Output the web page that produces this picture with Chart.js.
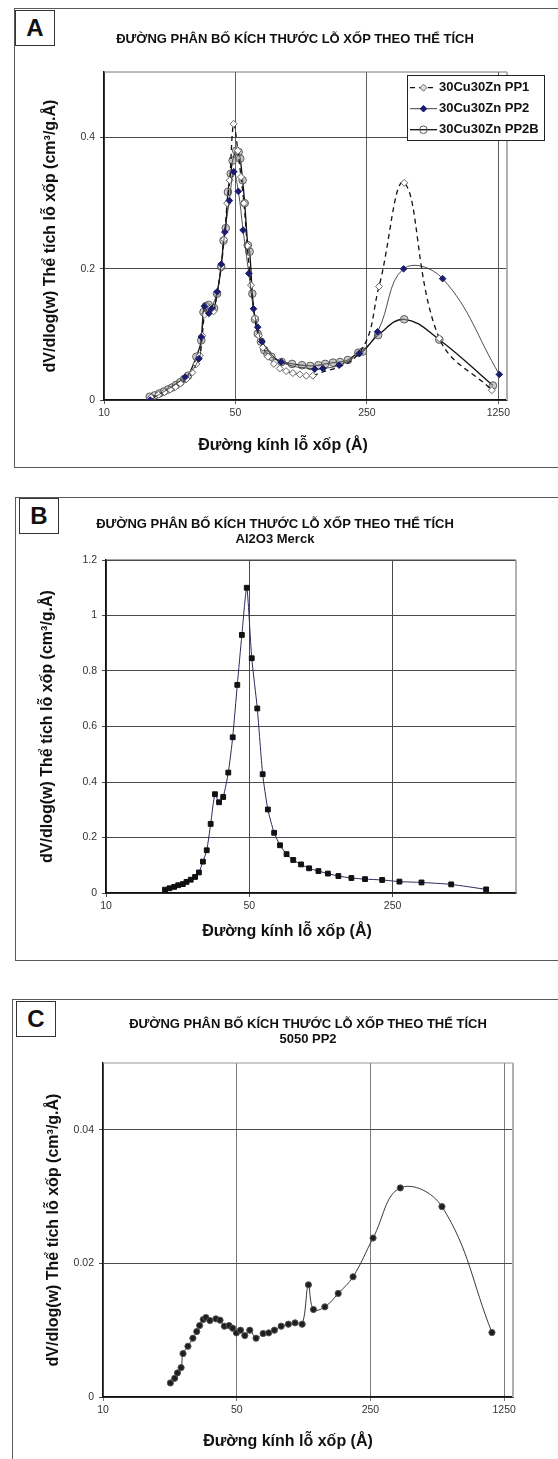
<!DOCTYPE html>
<html>
<head>
<meta charset="utf-8">
<script src="https://cdn.jsdelivr.net/npm/chart.js@4.4.1/dist/chart.umd.min.js"></script>
<style>
  html, body { margin: 0; padding: 0; background: #fff; }
  body { width: 558px; height: 1459px; position: relative; overflow: hidden;
         font-family: "Liberation Sans", Arial, Helvetica, sans-serif; color: #111; }
  .panel { position: absolute; border: 1.5px solid #5a5a5a; border-right: none; }
  .tag { position: absolute; width: 38px; height: 34px; border: 1.5px solid #333; background: #fff;
         font-weight: bold; font-size: 24px; display: flex; align-items: center; justify-content: center; z-index: 3; }
  .title { position: absolute; transform: translateX(-50%); font-weight: bold; font-size: 13px;
           line-height: 15px; white-space: nowrap; text-align: center; z-index: 3; }
  .xtitle { position: absolute; transform: translate(-50%, -50%); font-weight: bold; font-size: 16px;
            white-space: nowrap; z-index: 3; }
  canvas { position: absolute; left: 0; z-index: 2; }
</style>
</head>
<body>

<div class="panel" style="left:14px; top:8px; width:600px; height:458px;"></div>
<div class="tag" style="left:15px; top:10px;">A</div>
<div class="title" style="left:295px; top:31px;">ĐƯỜNG PHÂN BỐ KÍCH THƯỚC LỖ XỐP THEO THỂ TÍCH</div>
<canvas id="chartA" width="558" height="467" style="top:0; width:558px; height:467px;"></canvas>
<div class="xtitle" style="left:283px; top:445px;">Đường kính lỗ xốp (Å)</div>

<div class="panel" style="left:15px; top:497px; width:600px; height:462px;"></div>
<div class="tag" style="left:19px; top:498px;">B</div>
<div class="title" style="left:275px; top:516px;">ĐƯỜNG PHÂN BỐ KÍCH THƯỚC LỖ XỐP THEO THỂ TÍCH<br>Al2O3 Merck</div>
<canvas id="chartB" width="558" height="480" style="top:480px; width:558px; height:480px;"></canvas>
<div class="xtitle" style="left:287px; top:931px;">Đường kính lỗ xốp (Å)</div>

<div class="panel" style="left:12px; top:999px; width:600px; height:520px;"></div>
<div class="tag" style="left:16px; top:1001px;">C</div>
<div class="title" style="left:308px; top:1016px;">ĐƯỜNG PHÂN BỐ KÍCH THƯỚC LỖ XỐP THEO THỂ TÍCH<br>5050 PP2</div>
<canvas id="chartC" width="558" height="479" style="top:980px; width:558px; height:479px;"></canvas>
<div class="xtitle" style="left:288px; top:1441px;">Đường kính lỗ xốp (Å)</div>

<script>
const FONT = '"Liberation Sans", Arial, Helvetica, sans-serif';
const Y_LABEL = 'dV/dlog(w) Thể tích lỗ xốp (cm³/g.Å)';

// --- A: 30Cu30Zn, three preparations ---
const xTicksA = [10, 50, 250, 1250];
const yTicksA = [0, 0.2, 0.4];

const pp1Diam = [17.8, 19.5, 21.0, 22.5, 24.0, 25.5, 27.5, 29.5, 31.0, 32.3, 33.3, 34.2, 35.3, 36.8, 38.2,
  39.9, 42.0, 43.5, 45.2, 46.6, 48.9, 51.5, 53.5, 55.5, 57.8, 60.5, 63.5, 66.5, 70.0, 74.5, 80.0, 86.0,
  93.0, 101, 110, 119, 129, 228, 290, 395, 607, 1155];
const pp1Vol = [0.004, 0.008, 0.012, 0.016, 0.020, 0.025, 0.032, 0.042, 0.055, 0.068, 0.098, 0.130, 0.142, 0.140, 0.135,
  0.163, 0.203, 0.245, 0.300, 0.335, 0.421, 0.380, 0.340, 0.300, 0.235, 0.175, 0.125, 0.098, 0.080, 0.066, 0.055, 0.048,
  0.044, 0.041, 0.039, 0.037, 0.037, 0.072, 0.173, 0.331, 0.094, 0.015];

const pp2Diam = [17.6, 27.0, 32.0, 32.9, 34.2, 36.1, 37.2, 40.0, 42.0, 43.9, 46.4, 49.0, 51.8, 54.9, 58.9,
  62.4, 65.7, 69.2, 87.6, 132, 146, 178, 228, 285, 392, 632, 1265];
const pp2Vol = [0.000, 0.035, 0.063, 0.096, 0.143, 0.132, 0.139, 0.165, 0.207, 0.256, 0.304, 0.348, 0.318, 0.259, 0.193,
  0.139, 0.111, 0.089, 0.058, 0.047, 0.048, 0.053, 0.071, 0.104, 0.200, 0.185, 0.039];

const pp2bDiam = [17.5, 18.6, 19.7, 20.8, 21.9, 23.0, 24.2, 25.4, 26.7, 28.0, 31.0, 32.9, 33.8, 34.8, 36.0, 37.5, 38.5,
  39.9, 42.0, 43.2, 44.4, 45.6, 47.2, 48.3, 50.5, 52.0, 53.0, 54.6, 56.0, 58.2, 59.5, 61.5, 63.5, 65.7, 68.3, 71.2,
  74.0, 77.6, 88, 100, 113, 125, 138, 150, 165, 180, 198, 225, 238, 287, 395, 607, 1170];
const pp2bVol = [0.005, 0.007, 0.010, 0.013, 0.016, 0.019, 0.023, 0.027, 0.032, 0.037, 0.066, 0.091, 0.134, 0.143, 0.145, 0.138, 0.140,
  0.162, 0.203, 0.243, 0.262, 0.317, 0.345, 0.365, 0.380, 0.378, 0.368, 0.335, 0.300, 0.236, 0.226, 0.162, 0.123, 0.101, 0.089, 0.076,
  0.070, 0.066, 0.058, 0.055, 0.053, 0.052, 0.053, 0.055, 0.057, 0.058, 0.061, 0.072, 0.074, 0.099, 0.123, 0.092, 0.022];

// --- B: Al2O3 Merck ---
const xTicksB = [10, 50, 250];
const yTicksB = [0, 0.2, 0.4, 0.6, 0.8, 1, 1.2];
const merckDiam = [19.4, 20.4, 21.5, 22.5, 23.7, 24.7, 25.9, 27.2, 28.4, 29.7, 31.0, 32.4, 34.0, 35.6, 37.3, 39.5,
  41.5, 43.7, 46.0, 48.6, 51.4, 54.7, 58.1, 61.6, 66.1, 70.6, 76.0, 81.9, 89.4, 97.9, 108.7, 120.9, 136.0, 157.4,
  183.5, 222.4, 270, 346, 483, 715];
const merckVol = [0.012, 0.017, 0.022, 0.028, 0.032, 0.040, 0.048, 0.058, 0.074, 0.113, 0.154, 0.249, 0.356, 0.327, 0.346, 0.434,
  0.561, 0.750, 0.930, 1.100, 0.846, 0.665, 0.428, 0.301, 0.217, 0.172, 0.140, 0.119, 0.103, 0.089, 0.079, 0.070, 0.061, 0.054,
  0.050, 0.047, 0.041, 0.038, 0.031, 0.013];

// --- C: 5050 PP2 ---
const xTicksC = [10, 50, 250, 1250];
const yTicksC = [0, 0.02, 0.04];
const c5050Diam = [22.5, 23.7, 24.5, 25.6, 26.2, 27.8, 29.5, 30.9, 32.0, 33.4, 34.5, 36.2, 38.9, 40.9, 43.1, 45.6,
  47.6, 49.8, 52.3, 55.1, 58.5, 63.1, 68.7, 73.5, 78.7, 85.4, 93.1, 100.9, 109.9, 118.5, 125.9, 144.4, 169.6,
  202.8, 258, 358, 591, 1079];
const c5050Vol = [0.0021, 0.0028, 0.0036, 0.0044, 0.0065, 0.0076, 0.0088, 0.0098, 0.0107, 0.0116, 0.0119, 0.01145, 0.0117, 0.0115, 0.0106, 0.0107,
  0.0103, 0.0096, 0.0100, 0.0092, 0.0100, 0.0088, 0.0095, 0.0096, 0.0100, 0.0106, 0.0109, 0.0111, 0.0109, 0.0168, 0.0131, 0.0135, 0.0155,
  0.0180, 0.0238, 0.0313, 0.0285, 0.00965];

const pts = (xs, ys) => xs.map((x, i) => ({ x, y: ys[i] }));

// gray top / right edge of the plot area
const frame = {
  id: 'frame',
  beforeDatasetsDraw(chart, _args, o) {
    const { ctx, chartArea: a } = chart;
    ctx.save();
    ctx.strokeStyle = o.topColor; ctx.lineWidth = o.topWidth;
    ctx.beginPath(); ctx.moveTo(a.left, a.top); ctx.lineTo(a.right, a.top); ctx.stroke();
    ctx.strokeStyle = o.rightColor; ctx.lineWidth = o.rightWidth;
    ctx.beginPath(); ctx.moveTo(a.right, a.top); ctx.lineTo(a.right, a.bottom); ctx.stroke();
    ctx.restore();
  }
};

function marker(ctx, style, x, y, r, fill, stroke) {
  ctx.beginPath();
  if (style === 'circle') ctx.arc(x, y, r, 0, Math.PI * 2);
  else { ctx.moveTo(x, y - r); ctx.lineTo(x + r, y); ctx.lineTo(x, y + r); ctx.lineTo(x - r, y); ctx.closePath(); }
  ctx.fillStyle = fill; ctx.fill();
  ctx.strokeStyle = stroke; ctx.lineWidth = 1; ctx.stroke();
}

// boxed legend in the top right corner
const boxLegend = {
  id: 'boxLegend',
  afterDraw(chart, _args, o) {
    if (!o.show) return;
    const ctx = chart.ctx;
    ctx.save();
    ctx.fillStyle = '#fff';
    ctx.fillRect(o.x, o.y, o.w, o.h);
    ctx.strokeStyle = '#222'; ctx.lineWidth = 1;
    ctx.strokeRect(o.x + 0.5, o.y + 0.5, o.w, o.h);
    ctx.font = 'bold 13px ' + FONT;
    ctx.textBaseline = 'middle';
    chart.data.datasets.forEach((ds, i) => {
      const cy = o.y + o.first + i * o.step;
      const x0 = o.x + 3, x1 = o.x + 30;
      ctx.strokeStyle = '#111';
      ctx.lineWidth = ds.borderWidth;
      ctx.setLineDash(ds.borderDash || []);
      ctx.beginPath(); ctx.moveTo(x0, cy); ctx.lineTo(x1, cy); ctx.stroke();
      ctx.setLineDash([]);
      marker(ctx, ds.pointStyle, (x0 + x1) / 2, cy, ds.pointRadius, ds.legendFill, ds.pointBorderColor);
      ctx.fillStyle = '#111';
      ctx.fillText(ds.label, o.x + 32, cy);
    });
    ctx.restore();
  }
};

function makeChart(id, s) {
  const cv = document.getElementById(id);
  const H = cv.height;
  const tickFont = { family: FONT, size: 10.5 };
  return new Chart(cv, {
    type: 'scatter',
    data: { datasets: s.datasets },
    options: {
      responsive: false,
      animation: false,
      events: [],
      layout: { padding: { left: 0, top: s.area.top, right: cv.width - s.area.right, bottom: 0 } },
      plugins: {
        legend: { display: false },
        tooltip: { enabled: false },
        frame: s.frame,
        boxLegend: s.legend || { show: false }
      },
      scales: {
        x: {
          type: 'logarithmic',
          min: 10, max: s.xMax,
          afterBuildTicks: sc => { sc.ticks = s.xTicks.map(v => ({ value: v })); },
          afterFit: sc => { sc.height = H - s.area.bottom; },
          ticks: { callback: v => String(v), color: '#333', font: tickFont, padding: 3,
                   autoSkip: false, maxRotation: 0 },
          grid: { color: s.xGrid, lineWidth: 1, tickLength: 4 },
          border: { color: '#111', width: 1.5 }
        },
        y: {
          min: 0, max: s.yMax,
          afterBuildTicks: sc => { sc.ticks = s.yTicks.map(v => ({ value: v })); },
          afterFit: sc => { sc.width = s.area.left; },
          ticks: { callback: v => String(+v.toFixed(3)), color: '#333', font: tickFont, padding: 5 },
          grid: { color: '#4a4a4a', lineWidth: 1, tickLength: 4 },
          border: { color: '#111', width: 1.5 },
          title: { display: true, text: Y_LABEL, color: '#111',
                   font: { family: FONT, size: 16, weight: 'bold' },
                   padding: { top: s.yTitleX - 9.6, bottom: 0 } }
        }
      }
    },
    plugins: [frame, boxLegend]
  });
}

makeChart('chartA', {
  area: { left: 104, right: 507, top: 72, bottom: 400 },
  xMax: 1390, xTicks: xTicksA, yMax: 0.5, yTicks: yTicksA, yTitleX: 50.5, xGrid: '#5e5e5e',
  frame: { topColor: '#777', topWidth: 1, rightColor: '#b0b0b0', rightWidth: 2 },
  legend: { show: true, x: 407, y: 75, w: 137, h: 65, first: 12.7, step: 21 },
  datasets: [
    { label: '30Cu30Zn PP1', data: pts(pp1Diam, pp1Vol), showLine: true, tension: 0.4, order: 1,
      borderColor: '#111', borderWidth: 1.3, borderDash: [5, 4],
      pointStyle: 'rectRot', pointRadius: 3.5, pointBackgroundColor: '#fff', pointBorderColor: '#666',
      pointBorderWidth: 1, legendFill: '#ddd' },
    { label: '30Cu30Zn PP2', data: pts(pp2Diam, pp2Vol), showLine: true, tension: 0.4, order: 0,
      borderColor: '#222', borderWidth: 0.8,
      pointStyle: 'rectRot', pointRadius: 3.3, pointBackgroundColor: '#1c1c6e', pointBorderColor: '#1c1c6e',
      pointBorderWidth: 1, legendFill: '#1c1c6e' },
    { label: '30Cu30Zn PP2B', data: pts(pp2bDiam, pp2bVol), showLine: true, tension: 0.4, order: 2,
      borderColor: '#111', borderWidth: 1.3,
      pointStyle: 'circle', pointRadius: 3.8, pointBackgroundColor: 'rgba(160,160,160,0.55)', pointBorderColor: '#5a5a5a',
      pointBorderWidth: 1, legendFill: 'rgba(255,255,255,0)' }
  ]
});

makeChart('chartB', {
  area: { left: 106, right: 516, top: 80, bottom: 413 },
  xMax: 1000, xTicks: xTicksB, yMax: 1.2, yTicks: yTicksB, yTitleX: 47.5, xGrid: '#4a4a4a',
  frame: { topColor: '#4a4a4a', topWidth: 1, rightColor: '#999', rightWidth: 1.5 },
  datasets: [
    { label: 'Al2O3 Merck', data: pts(merckDiam, merckVol), showLine: true, tension: 0.2,
      borderColor: '#2a2a5c', borderWidth: 1,
      pointStyle: 'rect', pointRadius: 3.4, pointBackgroundColor: '#111', pointBorderColor: '#111', pointBorderWidth: 1 }
  ]
});

makeChart('chartC', {
  area: { left: 103, right: 513, top: 83, bottom: 417 },
  xMax: 1390, xTicks: xTicksC, yMax: 0.05, yTicks: yTicksC, yTitleX: 54, xGrid: '#7a7a7a',
  frame: { topColor: '#999', topWidth: 1, rightColor: '#b0b0b0', rightWidth: 2 },
  datasets: [
    { label: '5050 PP2', data: pts(c5050Diam, c5050Vol), showLine: true, tension: 0.4,
      borderColor: '#222', borderWidth: 0.9,
      pointStyle: 'circle', pointRadius: 3.1, pointBackgroundColor: '#1e1e1e', pointBorderColor: '#555', pointBorderWidth: 1 }
  ]
});
</script>
</body>
</html>
